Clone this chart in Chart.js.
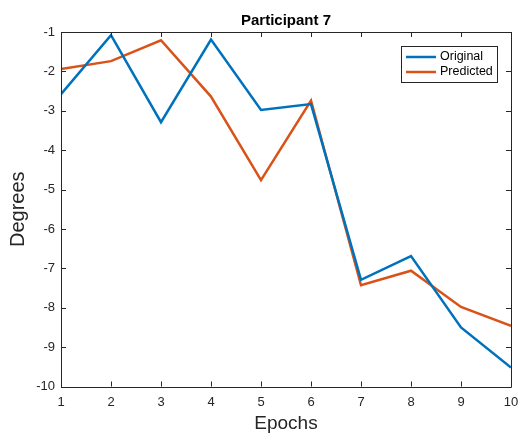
<!DOCTYPE html>
<html>
<head>
<meta charset="utf-8">
<script src="https://cdn.jsdelivr.net/npm/chart.js@4/dist/chart.umd.min.js"></script>
<style>
  html, body { margin: 0; padding: 0; background: #fff; }
  #wrap { width: 520px; height: 435px; }
</style>
</head>
<body>
<div id="wrap"><canvas id="myChart" width="520" height="435"></canvas></div>
<script>
// data
const epochs = [1, 2, 3, 4, 5, 6, 7, 8, 9, 10];
const original = [-2.58, -1.08, -3.29, -1.19, -2.98, -2.83, -7.29, -6.69, -8.5, -9.52];
const predicted = [-1.94, -1.74, -1.21, -2.64, -4.76, -2.74, -7.43, -7.06, -7.98, -8.46];
const xTicks = [1, 2, 3, 4, 5, 6, 7, 8, 9, 10];
const yTicks = [-10, -9, -8, -7, -6, -5, -4, -3, -2, -1];

const axisColor = "#262626";
const fontFam = "'Liberation Sans', Arial, Helvetica, sans-serif";

function toPoints(ys) {
  return epochs.map((e, i) => ({ x: e, y: ys[i] }));
}

// box round the axes, ticks pointing inward on all four sides (matlab look)
const boxTicks = {
  id: "boxTicks",
  afterDatasetsDraw(chart) {
    const ctx = chart.ctx;
    const a = chart.chartArea;
    const xs = chart.scales.x, ys = chart.scales.y;
    const len = 5;
    ctx.save();
    ctx.strokeStyle = axisColor;
    ctx.lineWidth = 1;
    ctx.beginPath();
    ctx.rect(Math.round(a.left) + 0.5, Math.round(a.top) + 0.5,
      Math.round(a.right - a.left), Math.round(a.bottom - a.top));
    xTicks.forEach((t) => {
      const px = Math.round(xs.getPixelForValue(t)) + 0.5;
      ctx.moveTo(px, a.bottom); ctx.lineTo(px, a.bottom - len);
      ctx.moveTo(px, a.top); ctx.lineTo(px, a.top + len);
    });
    yTicks.forEach((t) => {
      const py = Math.round(ys.getPixelForValue(t)) + 0.5;
      ctx.moveTo(a.left, py); ctx.lineTo(a.left + len, py);
      ctx.moveTo(a.right, py); ctx.lineTo(a.right - len, py);
    });
    ctx.stroke();
    ctx.restore();
  }
};

// legend box in the upper right corner of the plot
const insideLegend = {
  id: "insideLegend",
  afterDraw(chart) {
    const ctx = chart.ctx;
    const a = chart.chartArea;
    const bw = 96, bh = 36;
    const bx = a.right - 14 - bw, by = a.top + 14;
    ctx.save();
    ctx.fillStyle = "#fff";
    ctx.fillRect(bx, by, bw, bh);
    ctx.strokeStyle = axisColor;
    ctx.lineWidth = 1;
    ctx.strokeRect(Math.round(bx) + 0.5, Math.round(by) + 0.5, bw, bh);
    ctx.font = "12.5px " + fontFam;
    ctx.textBaseline = "middle";
    chart.data.datasets.forEach((ds, i) => {
      const yy = by + 11 + i * 15;
      ctx.strokeStyle = ds.borderColor;
      ctx.lineWidth = 2.5;
      ctx.beginPath();
      ctx.moveTo(bx + 5, yy); ctx.lineTo(bx + 35, yy);
      ctx.stroke();
      ctx.fillStyle = "#000";
      ctx.fillText(ds.label, bx + 39, yy);
    });
    ctx.restore();
  }
};

var ctx = document.getElementById("myChart").getContext("2d");
var myChart = new Chart(ctx, {
  type: "line",
  data: {
    datasets: [
      {
        label: "Original",
        data: toPoints(original),
        borderColor: "#0072BD",
        backgroundColor: "#0072BD",
        borderWidth: 2.5,
        pointRadius: 0,
        tension: 0,
      },
      {
        label: "Predicted",
        data: toPoints(predicted),
        borderColor: "#D95319",
        backgroundColor: "#D95319",
        borderWidth: 2.5,
        pointRadius: 0,
        tension: 0,
      },
    ],
  },
  options: {
    responsive: false,
    animation: false,
    layout: { padding: { left: 0, right: 9, top: 0, bottom: 0 } },
    plugins: {
      legend: { display: false },
      tooltip: { enabled: false },
    },
    scales: {
      // top axis only carries the title so it is centred over the plot
      top: {
        type: "linear",
        position: "top",
        min: 1,
        max: 10,
        afterFit: (s) => { s.height = 32; s.paddingLeft = 0; s.paddingRight = 0; },
        grid: { display: false, drawTicks: false },
        border: { display: false },
        ticks: { display: false },
        title: {
          display: true,
          text: "Participant 7",
          color: "#000",
          font: { family: fontFam, size: 15, weight: "bold" },
          padding: { top: 12, bottom: 0 },
        },
      },
      x: {
        type: "linear",
        min: 1,
        max: 10,
        afterBuildTicks: (s) => { s.ticks = xTicks.map((v) => ({ value: v })); },
        afterFit: (s) => { s.height = 48.5; s.paddingLeft = 0; s.paddingRight = 0; },
        grid: { display: false, drawTicks: false },
        border: { display: false },
        ticks: {
          color: "#262626",
          padding: 8,
          font: { family: fontFam, size: 13 },
          maxRotation: 0,
        },
        title: {
          display: true,
          text: "Epochs",
          color: "#262626",
          font: { family: fontFam, size: 19 },
          padding: { top: 0, bottom: 0 },
        },
      },
      y: {
        min: -10,
        max: -1,
        afterBuildTicks: (s) => { s.ticks = yTicks.map((v) => ({ value: v })); },
        afterFit: (s) => { s.width = 61; },
        grid: { display: false, drawTicks: false },
        border: { display: false },
        ticks: {
          color: "#262626",
          padding: 6,
          font: { family: fontFam, size: 13 },
        },
        title: {
          display: true,
          text: "Degrees",
          color: "#262626",
          font: { family: fontFam, size: 20 },
          padding: { top: 6, bottom: 0 },
        },
      },
    },
  },
  plugins: [boxTicks, insideLegend],
});
</script>
</body>
</html>
